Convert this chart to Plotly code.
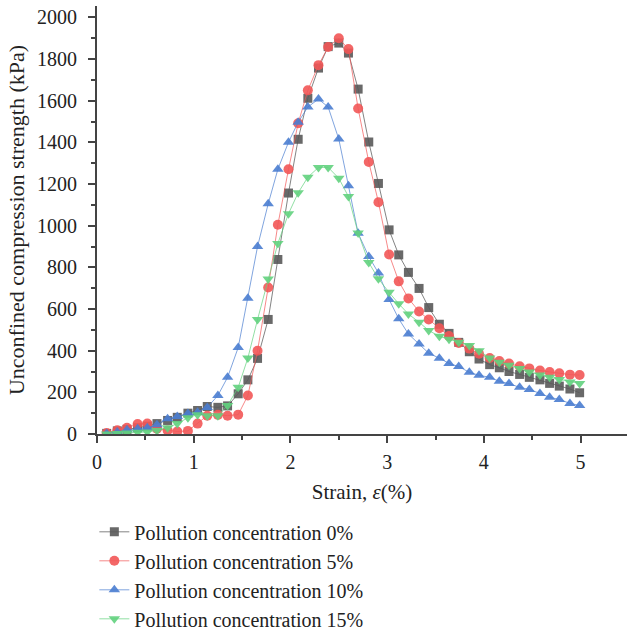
import plotly.graph_objects as go

strain = [0.10, 0.21, 0.31, 0.42, 0.52, 0.62, 0.73, 0.83, 0.94, 1.04,
          1.14, 1.25, 1.35, 1.46, 1.56, 1.66, 1.77, 1.87, 1.98, 2.08,
          2.18, 2.29, 2.39, 2.50, 2.60, 2.70, 2.81, 2.91, 3.02, 3.12,
          3.22, 3.33, 3.43, 3.54, 3.64, 3.74, 3.85, 3.95, 4.06, 4.16,
          4.26, 4.37, 4.47, 4.58, 4.68, 4.78, 4.89, 4.99]

conc_0 = [3, 15, 22, 30, 38, 50, 65, 80, 100, 113,
          132, 128, 135, 193, 260, 363, 550, 838, 1157, 1415,
          1612, 1757, 1860, 1877, 1829, 1656, 1402, 1203, 980, 860,
          776, 699, 607, 527, 483, 440, 395, 360, 333, 318,
          300, 286, 272, 260, 243, 230, 216, 198]

conc_5 = [5, 18, 30, 48, 50, 25, 17, 12, 15, 50,
          88, 92, 88, 93, 185, 400, 703, 1005, 1271, 1492,
          1650, 1771, 1858, 1900, 1848, 1563, 1306, 1113, 862, 733,
          651, 588, 550, 508, 470, 437, 410, 385, 365, 350,
          338, 325, 315, 305, 298, 292, 285, 283]

conc_10 = [3, 10, 20, 25, 30, 45, 73, 84, 99, 105,
           127, 185, 272, 415, 652, 900, 1105, 1271, 1401, 1497,
           1570, 1608, 1570, 1416, 1192, 964, 852, 773, 646, 553,
           480, 432, 388, 364, 339, 324, 296, 282, 272, 253,
           242, 224, 214, 195, 176, 166, 147, 137]

conc_15 = [0, 2, 5, 8, 10, 17, 30, 50, 78, 93,
           88, 88, 137, 224, 365, 550, 744, 915, 1058, 1158,
           1233, 1280, 1280, 1228, 1140, 965, 823, 745, 680, 625,
           576, 537, 497, 469, 455, 440, 425, 400, 365, 345,
           330, 315, 298, 283, 272, 262, 250, 243]

names = ["Pollution concentration 0%", "Pollution concentration 5%",
         "Pollution concentration 10%", "Pollution concentration 15%"]

series = [conc_0, conc_5, conc_10, conc_15]
marker_colors = ["#595959", "#f25757", "#4a7dd0", "#62d27e"]
line_colors = ["rgba(90,90,90,0.75)", "rgba(242,87,87,0.7)",
               "rgba(74,125,208,0.7)", "rgba(98,210,126,0.7)"]
symbols = ["square", "circle", "triangle-up", "triangle-down"]
sizes = [9, 10, 10, 10]

FONT = "Liberation Serif"
TXT = "#222222"
AX = "#444444"

fig = go.Figure()
for ys, nm, mc, lc, sym, sz in zip(series, names, marker_colors, line_colors, symbols, sizes):
    fig.add_trace(go.Scatter(
        x=strain, y=ys, name=nm, mode="lines+markers",
        line=dict(color=lc, width=1),
        marker=dict(symbol=sym, size=sz, color=mc, opacity=0.9, line=dict(width=0)),
    ))

axis_common = dict(
    showline=True, linecolor=AX, linewidth=2,
    ticks="outside", ticklen=7, tickwidth=2, tickcolor=AX,
    showgrid=False, zeroline=False, automargin=False,
    tickfont=dict(family=FONT, size=20, color=TXT),
)

fig.update_xaxes(
    range=[0, 5.48], dtick=1, tick0=0,
    minor=dict(dtick=0.5, ticklen=4, tickwidth=2, tickcolor=AX, ticks="outside", showgrid=False),
    title=dict(text="Strain, <i>ε</i>(%)", font=dict(family=FONT, size=21, color=TXT), standoff=12),
    ticklabelstandoff=2,
    **axis_common,
)
fig.update_yaxes(
    range=[0, 2055], dtick=200, tick0=0,
    minor=dict(dtick=100, ticklen=4, tickwidth=2, tickcolor=AX, ticks="outside", showgrid=False),
    title=dict(text="Unconfined compression strength (kPa)", font=dict(family=FONT, size=22, color=TXT), standoff=6),
    ticklabelstandoff=7,
    **axis_common,
)

fig.update_layout(
    width=627, height=633,
    margin=dict(l=97, r=0, t=6, b=199, autoexpand=False),
    paper_bgcolor="white", plot_bgcolor="white",
    showlegend=True,
    legend=dict(
        x=-0.005, y=-0.183, xanchor="left", yanchor="top",
        font=dict(family=FONT, size=20, color=TXT),
        bgcolor="rgba(0,0,0,0)", tracegroupgap=0,
    ),
)

fig.write_html("out.html")
